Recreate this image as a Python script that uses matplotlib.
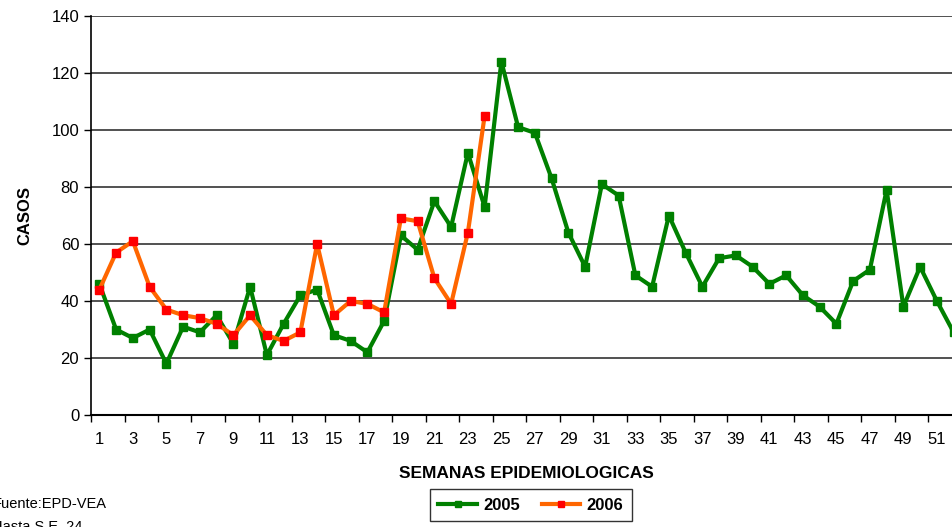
import matplotlib
matplotlib.use("Agg")
import matplotlib.pyplot as plt

plt.rcParams['font.family'] = ['Liberation Sans', 'DejaVu Sans']

# weekly cases
weeks_2005 = list(range(1, 53))
cases_2005 = [46, 30, 27, 30, 18, 31, 29, 35, 25, 45,
              21, 32, 42, 44, 28, 26, 22, 33, 63, 58,
              75, 66, 92, 73, 124, 101, 99, 83, 64, 52,
              81, 77, 49, 45, 70, 57, 45, 55, 56, 52,
              46, 49, 42, 38, 32, 47, 51, 79, 38, 52,
              40, 29]
weeks_2006 = list(range(1, 25))
cases_2006 = [44, 57, 61, 45, 37, 35, 34, 32, 28, 35,
              28, 26, 29, 60, 35, 40, 39, 36, 69, 68,
              48, 39, 64, 105]

y_ticks = list(range(0, 141, 20))
x_labels = list(range(1, 52, 2))

fig = plt.figure(figsize=(9.53, 5.27), dpi=100)
ax = fig.add_axes([91 / 953, 1 - 415 / 527, 871 / 953, 399 / 527])

ax.plot(weeks_2005, cases_2005, color="#008000", lw=3, marker="s", ms=6,
        mfc="#008000", mec="#008000", label="2005", zorder=3)
ax.plot(weeks_2006, cases_2006, color="#FF6600", lw=3, marker="s", ms=6,
        mfc="#FF0000", mec="#FF0000", label="2006", zorder=4)

ax.set_xlim(0.5, 52.5)
ax.set_ylim(0, 140)
ax.set_yticks(y_ticks)
ax.yaxis.grid(True, color="#333333", lw=1.2)
ax.set_axisbelow(True)
ax.set_xticks(x_labels)
ax.set_xticks([w + 0.5 for w in range(0, 52, 2)], minor=True)
ax.tick_params(axis="x", which="major", length=0, labelsize=12, pad=12)
ax.tick_params(axis="x", which="minor", length=5, width=1)
ax.tick_params(axis="y", length=5, width=1, labelsize=12)

for side in ("top", "right"):
    ax.spines[side].set_visible(False)
ax.spines["left"].set_linewidth(1.2)
ax.spines["bottom"].set_linewidth(1.5)

ax.set_ylabel("CASOS", fontsize=12, fontweight="bold", labelpad=14)
ax.set_xlabel("SEMANAS EPIDEMIOLOGICAS", fontsize=12.5, fontweight="bold",
              labelpad=14)

leg = fig.legend(loc="upper center", bbox_to_anchor=(531 / 953, 1 - 481 / 527),
                 ncol=2, frameon=True, fancybox=False, edgecolor="black",
                 prop={"weight": "bold", "size": 12}, handlelength=2.3,
                 handletextpad=0.4, columnspacing=1.3, borderpad=0.5,
                 markerscale=0.8)
leg.get_frame().set_linewidth(1)

fig.text(-0.008, 1 - 497 / 527, "Fuente:EPD-VEA\nHasta S.E. 24", fontsize=10.5,
         va="top", ha="left", linespacing=1.85)

fig.savefig("out.png", dpi=100)
